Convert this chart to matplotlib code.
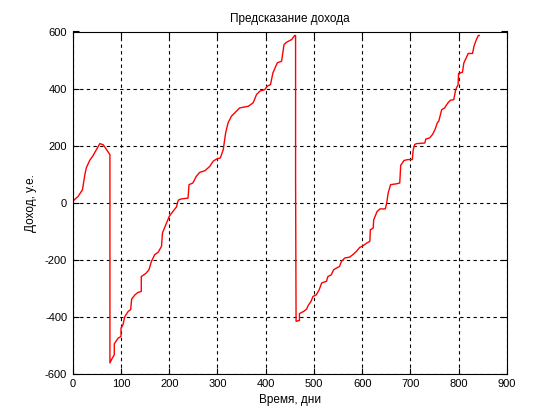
import numpy as np
import matplotlib
matplotlib.use('Agg')
import matplotlib.pyplot as plt

plt.rcParams['font.family'] = ['Liberation Sans', 'DejaVu Sans']
plt.rcParams['axes.unicode_minus'] = False

# values
days = [0, 11, 18, 20, 25, 28, 35, 42, 49, 56, 63, 70, 77, 77, 80, 86, 86, 94,
        100, 100, 104, 108, 115, 120, 122, 129, 135, 142, 142, 151, 158, 163,
        170, 177, 184, 186, 193, 200, 208, 215, 218, 220, 225, 239, 241, 249,
        256, 263, 274, 284, 291, 298, 306, 312, 317, 322, 329, 336, 346, 364,
        374, 381, 388, 398, 403, 410, 415, 424, 433, 438, 443, 454, 460, 462,
        462, 463, 470, 470, 479, 485, 488, 494, 498, 505, 511, 516, 520, 526,
        529, 536, 541, 547, 553, 557, 564, 574, 581, 588, 595, 602, 610, 616,
        617, 623, 624, 631, 637, 648, 651, 654, 659, 671, 678, 680, 687, 695,
        704, 706, 709, 713, 730, 732, 740, 746, 751, 756, 759, 765, 771, 778,
        783, 790, 794, 799, 800, 808, 811, 816, 820, 829, 832, 837, 841, 843]
income = [5, 22, 40, 45, 98, 122, 148, 165, 186, 207, 203, 186, 168, -562,
          -551, -533, -495, -475, -469, -440, -428, -399, -381, -375, -338,
          -323, -315, -311, -259, -249, -235, -206, -182, -174, -153, -106,
          -77, -48, -30, -15, 5, 10, 13, 16, 63, 69, 92, 106, 112, 127, 145,
          153, 157, 186, 245, 280, 303, 315, 332, 338, 350, 379, 391, 396,
          408, 414, 455, 490, 496, 554, 562, 572, 586, 586, 83, -416, -413,
          -389, -381, -373, -361, -346, -329, -323, -305, -282, -279, -276,
          -259, -253, -235, -229, -224, -206, -194, -191, -182, -171, -157,
          -151, -141, -136, -95, -89, -60, -31, -22, -22, -1, 34, 63, 66, 69,
          131, 148, 151, 151, 186, 204, 207, 209, 223, 227, 239, 256, 280,
          286, 326, 332, 350, 359, 361, 396, 414, 453, 457, 490, 508, 523,
          523, 549, 572, 586, 586]

xticks = np.arange(0, 901, 100)
yticks = np.arange(-600, 601, 200)

fig = plt.figure(figsize=(5.6, 4.2), dpi=100)
ax = fig.add_axes([0.13, 0.11, 0.775, 0.815])

ax.plot(days, income, color='red', lw=1.0)

ax.set_xlim(0, 900)
ax.set_ylim(-600, 600)
ax.set_xticks(xticks)
ax.set_yticks(yticks)
ax.grid(True, color='black', linestyle=(0, (3, 3)), linewidth=0.8)
ax.tick_params(direction='in', length=4, top=True, right=True,
               labelsize=8, colors='black', pad=4)
for s in ax.spines.values():
    s.set_linewidth(0.8)

ax.set_title('Предсказание дохода', fontsize=8.5, pad=7)
ax.set_xlabel('Время, дни', fontsize=8.5, labelpad=3)
ax.set_ylabel('Доход, у.е.', fontsize=8.5, labelpad=6)

fig.savefig('out.png', dpi=100)
